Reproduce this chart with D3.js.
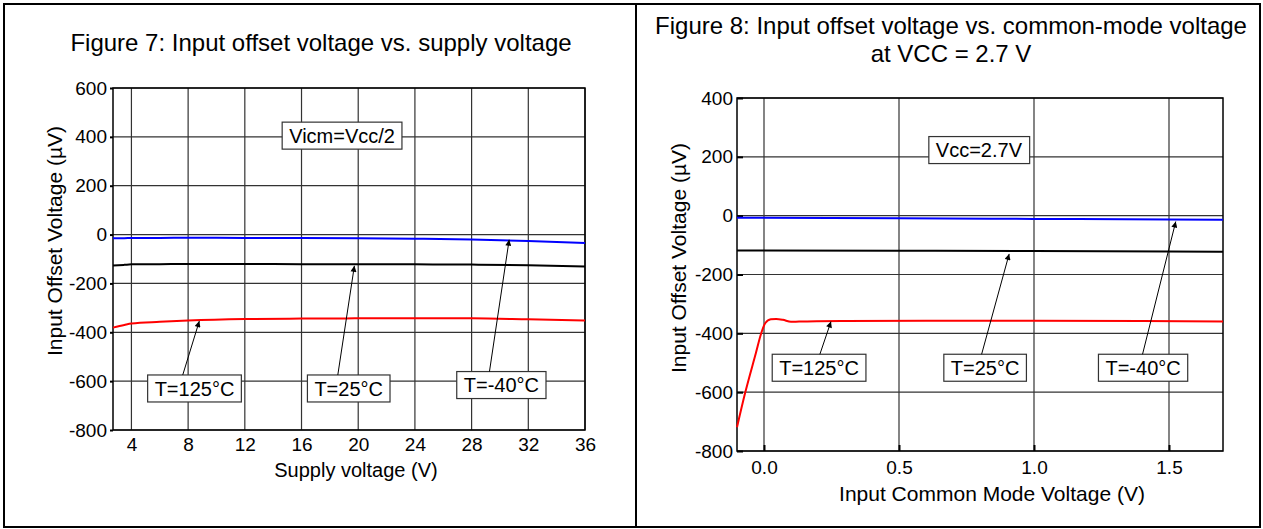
<!DOCTYPE html>
<html lang="en">
  <head>
    <meta charset="utf-8" />
    <title>Input offset voltage</title>
    <script src="https://d3js.org/d3.v7.min.js"></script>
    <style type="text/css">
      body { margin: 0; background: #fff; }
      svg { display: block; font-family: 'Liberation Sans', Arial, sans-serif; }
    </style>
  </head>
  <body>
    <script type="text/javascript">
      // Figure 7: offset vs supply voltage (V / uV)
      const supplyVoltage = [2.7, 3.5, 4, 6, 8, 12, 16, 20, 24, 28, 32, 36];
      const supplyHot = [-381, -370, -364, -357, -352, -346, -344, -343, -343, -343, -347, -352];
      const supplyRoom = [-127, -124, -122, -121, -120, -120, -121, -121, -122, -123, -126, -131];
      const supplyCold = [-15, -15, -14, -14, -13, -14, -14, -15, -17, -20, -26, -34];
      const fig7XTicks = [4, 8, 12, 16, 20, 24, 28, 32, 36];
      const fig7YTicks = [-800, -600, -400, -200, 0, 200, 400, 600];

      // Figure 8: offset vs common mode voltage at Vcc = 2.7 V
      const cmVoltageHot = [-0.1, -0.07, -0.03, -0.01, 0.005, 0.025, 0.045, 0.07, 0.1, 0.13, 0.3, 0.6, 1.0, 1.4, 1.7];
      const cmHot = [-719, -603, -467, -399, -365, -352, -351, -354, -361, -360, -358, -357, -357, -358, -360];
      const cmVoltage = [-0.1, 0.5, 1.0, 1.5, 1.7];
      const cmRoom = [-118, -119, -120, -122, -123];
      const cmCold = [-7, -9, -11, -13, -14];
      const fig8XTicks = [0, 0.5, 1.0, 1.5];
      const fig8YTicks = [-800, -600, -400, -200, 0, 200, 400];

      // Labels: text, box centre [x, y] in data units, arrow [tail x, head x, head y]
      const tempLabels = ['T=125°C', 'T=25°C', 'T=-40°C'];
      const fig7LabelAt = [[8.45, -630], [19.33, -630], [30.1, -616]];
      const fig7Arrows = [[7.62, 8.79, -354], [18.56, 19.73, -128], [29.26, 30.65, -21]];
      const fig8LabelAt = [[0.204, -517], [0.819, -517], [1.404, -517]];
      const fig8Arrows = [[0.207, 0.248, -360], [0.806, 0.908, -130], [1.402, 1.525, -20]];

      const w = 1263;
      const h = 529;
      const hyphen = f => d => f(d).replace('\u2212', '-');

      const svg = d3
        .select('body')
        .append('svg')
        .attr('width', w)
        .attr('height', h);

      svg
        .append('defs')
        .append('marker')
        .attr('id', 'head')
        .attr('viewBox', '0 0 10 10')
        .attr('refX', 10)
        .attr('refY', 5)
        .attr('markerWidth', 8)
        .attr('markerHeight', 6)
        .attr('markerUnits', 'userSpaceOnUse')
        .attr('orient', 'auto')
        .append('path')
        .attr('d', 'M0,0L10,5L0,10z')
        .attr('fill', '#000');

      // frame round both figures
      svg
        .append('rect')
        .attr('x', 4)
        .attr('y', 4)
        .attr('width', 1256)
        .attr('height', 523)
        .attr('fill', 'none')
        .attr('stroke', '#000')
        .attr('stroke-width', 2);
      svg
        .append('line')
        .attr('x1', 636)
        .attr('x2', 636)
        .attr('y1', 4)
        .attr('y2', 527)
        .attr('stroke', '#000')
        .attr('stroke-width', 2);

      const panel = cfg => {
        const x = d3.scaleLinear().domain(cfg.xDomain).range([cfg.left, cfg.right]);
        const y = d3.scaleLinear().domain(cfg.yDomain).range([cfg.bottom, cfg.top]);
        const g = svg.append('g');

        // grid
        g.selectAll('.vgrid')
          .data(cfg.xTicks)
          .enter()
          .append('line')
          .attr('x1', d => x(d))
          .attr('x2', d => x(d))
          .attr('y1', cfg.top)
          .attr('y2', cfg.bottom)
          .attr('stroke', '#333')
          .attr('stroke-width', 1.2);
        g.selectAll('.hgrid')
          .data(cfg.yTicks)
          .enter()
          .append('line')
          .attr('x1', cfg.left)
          .attr('x2', cfg.right)
          .attr('y1', d => y(d))
          .attr('y2', d => y(d))
          .attr('stroke', '#333')
          .attr('stroke-width', 1.2);

        // axes
        const yAxis = d3
          .axisLeft(y)
          .tickValues(cfg.yTicks)
          .tickFormat(hyphen(d3.format('d')))
          .tickSizeInner(cfg.yTick)
          .tickSizeOuter(0)
          .tickPadding(cfg.yPad);
        const yg = g
          .append('g')
          .attr('transform', `translate(${cfg.left},0)`)
          .call(yAxis);
        const xAxis = d3
          .axisBottom(x)
          .tickValues(cfg.xTicks)
          .tickFormat(cfg.xFormat)
          .tickSizeInner(cfg.xTick)
          .tickSizeOuter(0)
          .tickPadding(cfg.xPad);
        const xg = g
          .append('g')
          .attr('transform', `translate(0,${cfg.bottom})`)
          .call(xAxis);
        [xg, yg].forEach(a => {
          a.select('.domain').remove();
          a.selectAll('line').attr('stroke', '#000').attr('stroke-width', 2);
          a.selectAll('text')
            .attr('fill', '#000')
            .style('font-size', '19px')
            .style('font-family', "'Liberation Sans', Arial, sans-serif");
        });

        g.append('rect')
          .attr('x', cfg.left)
          .attr('y', cfg.top)
          .attr('width', cfg.right - cfg.left)
          .attr('height', cfg.bottom - cfg.top)
          .attr('fill', 'none')
          .attr('stroke', '#000')
          .attr('stroke-width', 1.5);

        // curves
        const line = d3
          .line()
          .x(d => x(d[0]))
          .y(d => y(d[1]))
          .curve(d3.curveMonotoneX);
        cfg.series.forEach(s => {
          g.append('path')
            .datum(d3.zip(s.xs, s.ys))
            .attr('d', line)
            .attr('fill', 'none')
            .attr('stroke', s.color)
            .attr('stroke-width', 2);
        });

        // boxed labels
        const boxed = (text, cx, cy) => {
          const t = g
            .append('text')
            .attr('x', cx)
            .attr('y', cy)
            .attr('dy', '0.36em')
            .attr('text-anchor', 'middle')
            .style('font-size', '20px')
            .text(text);
          const bb = t.node().getBBox();
          g.insert('rect', () => t.node())
            .attr('x', bb.x - 7)
            .attr('y', cy - 13.5)
            .attr('width', bb.width + 14)
            .attr('height', 27)
            .attr('fill', '#fff')
            .attr('stroke', '#333')
            .attr('stroke-width', 1.2);
          return cy - 13.5;
        };
        boxed(cfg.note, x(cfg.noteAt[0]), y(cfg.noteAt[1]));
        tempLabels.forEach((label, i) => {
          const top = boxed(label, x(cfg.labelAt[i][0]), y(cfg.labelAt[i][1]));
          const a = cfg.arrows[i];
          g.append('line')
            .attr('x1', x(a[0]))
            .attr('y1', top)
            .attr('x2', x(a[1]))
            .attr('y2', y(a[2]))
            .attr('stroke', '#000')
            .attr('stroke-width', 1)
            .attr('marker-end', 'url(#head)');
        });

        // titles
        cfg.title.forEach((t, i) => {
          svg
            .append('text')
            .attr('x', cfg.titleX)
            .attr('y', cfg.titleY + i * 28)
            .attr('text-anchor', 'middle')
            .style('font-size', '24px')
            .text(t);
        });
        svg
          .append('text')
          .attr('x', cfg.xLabelX)
          .attr('y', cfg.xLabelY)
          .attr('text-anchor', 'middle')
          .style('font-size', cfg.xLabelSize)
          .text(cfg.xLabel);
        svg
          .append('text')
          .attr('transform', `translate(${cfg.yLabelX},${cfg.yLabelY}) rotate(-90)`)
          .attr('text-anchor', 'middle')
          .style('font-size', '21px')
          .text('Input Offset Voltage (µV)');
      };

      panel({
        left: 113,
        right: 585,
        top: 88,
        bottom: 430,
        xDomain: [2.7, 36],
        yDomain: [-800, 600],
        xTicks: fig7XTicks,
        yTicks: fig7YTicks,
        xFormat: d3.format('d'),
        xTick: 0,
        xPad: 8,
        yTick: 3,
        yPad: 3,
        series: [
          { xs: supplyVoltage, ys: supplyHot, color: '#ff0000' },
          { xs: supplyVoltage, ys: supplyRoom, color: '#000000' },
          { xs: supplyVoltage, ys: supplyCold, color: '#0000ff' },
        ],
        note: 'Vicm=Vcc/2',
        noteAt: [18.86, 405],
        labelAt: fig7LabelAt,
        arrows: fig7Arrows,
        title: ['Figure 7: Input offset voltage vs. supply voltage'],
        titleX: 321,
        titleY: 51,
        xLabel: 'Supply voltage (V)',
        xLabelSize: '20px',
        xLabelX: 356,
        xLabelY: 477,
        yLabelX: 62,
        yLabelY: 241,
      });

      panel({
        left: 737,
        right: 1223,
        top: 98,
        bottom: 451,
        xDomain: [-0.1, 1.7],
        yDomain: [-800, 400],
        xTicks: fig8XTicks,
        yTicks: fig8YTicks,
        xFormat: d3.format('.1f'),
        xTick: -6,
        xPad: 10,
        yTick: -6,
        yPad: 4,
        series: [
          { xs: cmVoltageHot, ys: cmHot, color: '#ff0000' },
          { xs: cmVoltage, ys: cmRoom, color: '#000000' },
          { xs: cmVoltage, ys: cmCold, color: '#0000ff' },
        ],
        note: 'Vcc=2.7V',
        noteAt: [0.796, 223],
        labelAt: fig8LabelAt,
        arrows: fig8Arrows,
        title: ['Figure 8: Input offset voltage vs. common-mode voltage', 'at VCC = 2.7 V'],
        titleX: 951,
        titleY: 34,
        xLabel: 'Input Common Mode Voltage (V)',
        xLabelSize: '21px',
        xLabelX: 992,
        xLabelY: 501,
        yLabelX: 686,
        yLabelY: 258,
      });
    </script>
  </body>
</html>
